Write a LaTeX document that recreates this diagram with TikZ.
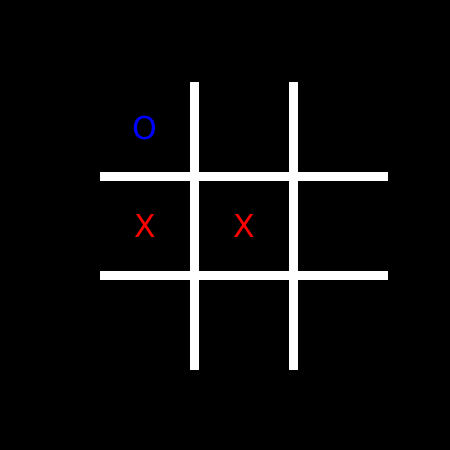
\documentclass[tikz,border=0pt]{standalone}
\usepackage{fontspec}
\setsansfont{DejaVu Sans}
\usepackage{xcolor}
\usetikzlibrary{positioning}

\begin{document}
\begin{tikzpicture}[
    x=1pt, y=-1pt,
    gridline/.style={draw=white, line width=9pt},
    cellmark/.style={font=\sffamily\fontsize{31.5}{31.5}\selectfont, inner sep=0pt},
    markx/.style={cellmark, text=red},
    marko/.style={cellmark, text=blue}
]
    \fill[black] (0,0) rectangle (450,450);
    \useasboundingbox (0,0) rectangle (450,450);

    % grid ends
    \coordinate (v1top) at (194.5,82);
    \coordinate (v1bot) at (194.5,370);
    \coordinate (v2top) at (293.5,82);
    \coordinate (v2bot) at (293.5,370);
    \coordinate (h1left) at (100,176);
    \coordinate (h1right) at (388,176);
    \coordinate (h2left) at (100,275.5);
    \coordinate (h2right) at (388,275.5);

    \draw [gridline] (v1top) -- (v1bot);
    \draw [gridline] (v2top) -- (v2bot);
    \draw [gridline] (h1left) -- (h1right);
    \draw [gridline] (h2left) -- (h2right);

    % marks
    \node (cellA) [marko] at (144.5,128) {O};
    \node (cellD) [markx] at (145,226.5) {X};
    \node (cellE) [markx] at (244,226.5) {X};
\end{tikzpicture}
\end{document}
